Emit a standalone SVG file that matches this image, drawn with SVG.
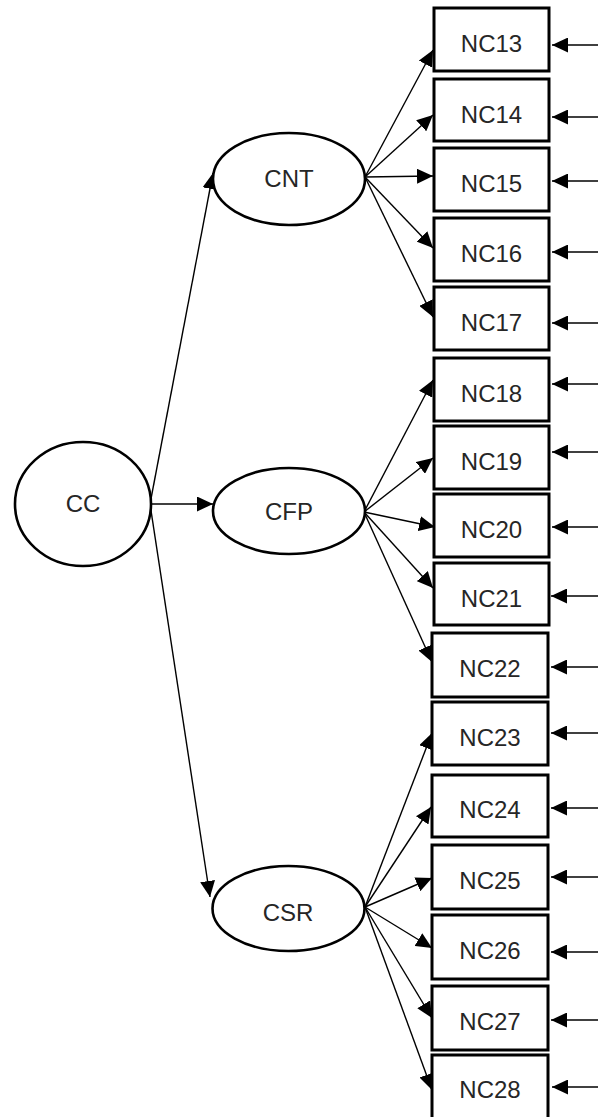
<svg xmlns="http://www.w3.org/2000/svg" width="598" height="1117" viewBox="0 0 598 1117">
  <style>
    .latent { fill: #fff; stroke: #000; stroke-width: 2.6; }
    .item { fill: #fff; stroke: #000; stroke-width: 3; }
    .lbl { font-family: "Liberation Sans", Arial, sans-serif; font-size: 24px; fill: #262626; text-anchor: middle; }
    .edge { stroke: #000; stroke-width: 1.4; fill: none; marker-end: url(#arrow); }
  </style>
  <defs>
    <marker id="arrow" markerUnits="userSpaceOnUse" markerWidth="16" markerHeight="15" refX="16" refY="7.5" orient="auto">
      <path d="M0,0 L16,7.5 L0,15 Z" fill="#000"/>
    </marker>
  </defs>

  <rect width="598" height="1117" fill="#fff"/>

  <!-- connectors -->
  <g id="connectors">
    <!-- second-order factor to first-order factors -->
    <line class="edge" x1="150" y1="504" x2="213" y2="173"/>
    <line class="edge" x1="152" y1="504" x2="213" y2="504"/>
    <line class="edge" x1="150" y1="504" x2="210" y2="897"/>
    <!-- CNT indicators -->
    <line class="edge" x1="365" y1="177" x2="433" y2="50"/>
    <line class="edge" x1="365" y1="177" x2="433" y2="115"/>
    <line class="edge" x1="365" y1="177" x2="433" y2="176"/>
    <line class="edge" x1="365" y1="177" x2="433" y2="248"/>
    <line class="edge" x1="365" y1="177" x2="433" y2="317"/>
    <!-- CFP indicators -->
    <line class="edge" x1="364" y1="512" x2="433" y2="380"/>
    <line class="edge" x1="364" y1="512" x2="433" y2="458"/>
    <line class="edge" x1="364" y1="512" x2="435" y2="527"/>
    <line class="edge" x1="364" y1="512" x2="433" y2="588"/>
    <line class="edge" x1="364" y1="512" x2="432" y2="662"/>
    <!-- CSR indicators -->
    <line class="edge" x1="365" y1="907" x2="432" y2="733"/>
    <line class="edge" x1="365" y1="907" x2="431" y2="807"/>
    <line class="edge" x1="365" y1="907" x2="432" y2="878"/>
    <line class="edge" x1="365" y1="907" x2="432" y2="948"/>
    <line class="edge" x1="365" y1="907" x2="432" y2="1018"/>
    <line class="edge" x1="365" y1="907" x2="432" y2="1090"/>
    <!-- error terms -->
    <line class="edge" x1="598" y1="45" x2="552" y2="45"/>
    <line class="edge" x1="598" y1="117" x2="552" y2="117"/>
    <line class="edge" x1="598" y1="181" x2="552" y2="181"/>
    <line class="edge" x1="598" y1="252" x2="552" y2="252"/>
    <line class="edge" x1="598" y1="323" x2="552" y2="323"/>
    <line class="edge" x1="598" y1="384" x2="552" y2="384"/>
    <line class="edge" x1="598" y1="452" x2="552" y2="452"/>
    <line class="edge" x1="598" y1="527" x2="552" y2="527"/>
    <line class="edge" x1="598" y1="596" x2="551" y2="596"/>
    <line class="edge" x1="598" y1="667" x2="551" y2="667"/>
    <line class="edge" x1="598" y1="733" x2="551" y2="733"/>
    <line class="edge" x1="598" y1="808" x2="551" y2="808"/>
    <line class="edge" x1="598" y1="877" x2="551" y2="877"/>
    <line class="edge" x1="598" y1="952" x2="551" y2="952"/>
    <line class="edge" x1="598" y1="1020" x2="551" y2="1020"/>
    <line class="edge" x1="598" y1="1087" x2="552" y2="1087"/>
  </g>

  <!-- latent factors -->
  <g id="CC"><ellipse class="latent" cx="83" cy="504" rx="68" ry="62"/><text class="lbl" x="83" y="512">CC</text></g>
  <g id="CNT"><ellipse class="latent" cx="289" cy="179" rx="76" ry="46"/><text class="lbl" x="289" y="187">CNT</text></g>
  <g id="CFP"><ellipse class="latent" cx="289" cy="511" rx="76" ry="43"/><text class="lbl" x="289" y="520">CFP</text></g>
  <g id="CSR"><ellipse class="latent" cx="288.5" cy="908.5" rx="76" ry="42.5"/><text class="lbl" x="288" y="921">CSR</text></g>

  <!-- observed indicators -->
  <g id="NC13"><rect class="item" x="434" y="8" width="115" height="63"/><text class="lbl" x="491.5" y="52">NC13</text></g>
  <g id="NC14"><rect class="item" x="434" y="79" width="115" height="62"/><text class="lbl" x="491.5" y="123">NC14</text></g>
  <g id="NC15"><rect class="item" x="434" y="148" width="115" height="63"/><text class="lbl" x="491.5" y="192">NC15</text></g>
  <g id="NC16"><rect class="item" x="434" y="218" width="115" height="63"/><text class="lbl" x="491.5" y="262">NC16</text></g>
  <g id="NC17"><rect class="item" x="434" y="287" width="115" height="63"/><text class="lbl" x="491.5" y="331">NC17</text></g>
  <g id="NC18"><rect class="item" x="434" y="358" width="115" height="63"/><text class="lbl" x="491.5" y="402">NC18</text></g>
  <g id="NC19"><rect class="item" x="434" y="426" width="115" height="63"/><text class="lbl" x="491.5" y="470">NC19</text></g>
  <g id="NC20"><rect class="item" x="434" y="494" width="115" height="63"/><text class="lbl" x="491.5" y="538">NC20</text></g>
  <g id="NC21"><rect class="item" x="434" y="563" width="115" height="62"/><text class="lbl" x="491.5" y="607">NC21</text></g>
  <g id="NC22"><rect class="item" x="432" y="633" width="116" height="64"/><text class="lbl" x="490" y="677">NC22</text></g>
  <g id="NC23"><rect class="item" x="432" y="702" width="116" height="63"/><text class="lbl" x="490" y="746">NC23</text></g>
  <g id="NC24"><rect class="item" x="432" y="775" width="116" height="62"/><text class="lbl" x="490" y="818">NC24</text></g>
  <g id="NC25"><rect class="item" x="432" y="845" width="116" height="64"/><text class="lbl" x="490" y="889">NC25</text></g>
  <g id="NC26"><rect class="item" x="432" y="915" width="116" height="64"/><text class="lbl" x="490" y="959">NC26</text></g>
  <g id="NC27"><rect class="item" x="432" y="986" width="116" height="64"/><text class="lbl" x="490" y="1030">NC27</text></g>
  <g id="NC28"><rect class="item" x="432" y="1055" width="116" height="64"/><text class="lbl" x="490" y="1098">NC28</text></g>
</svg>
